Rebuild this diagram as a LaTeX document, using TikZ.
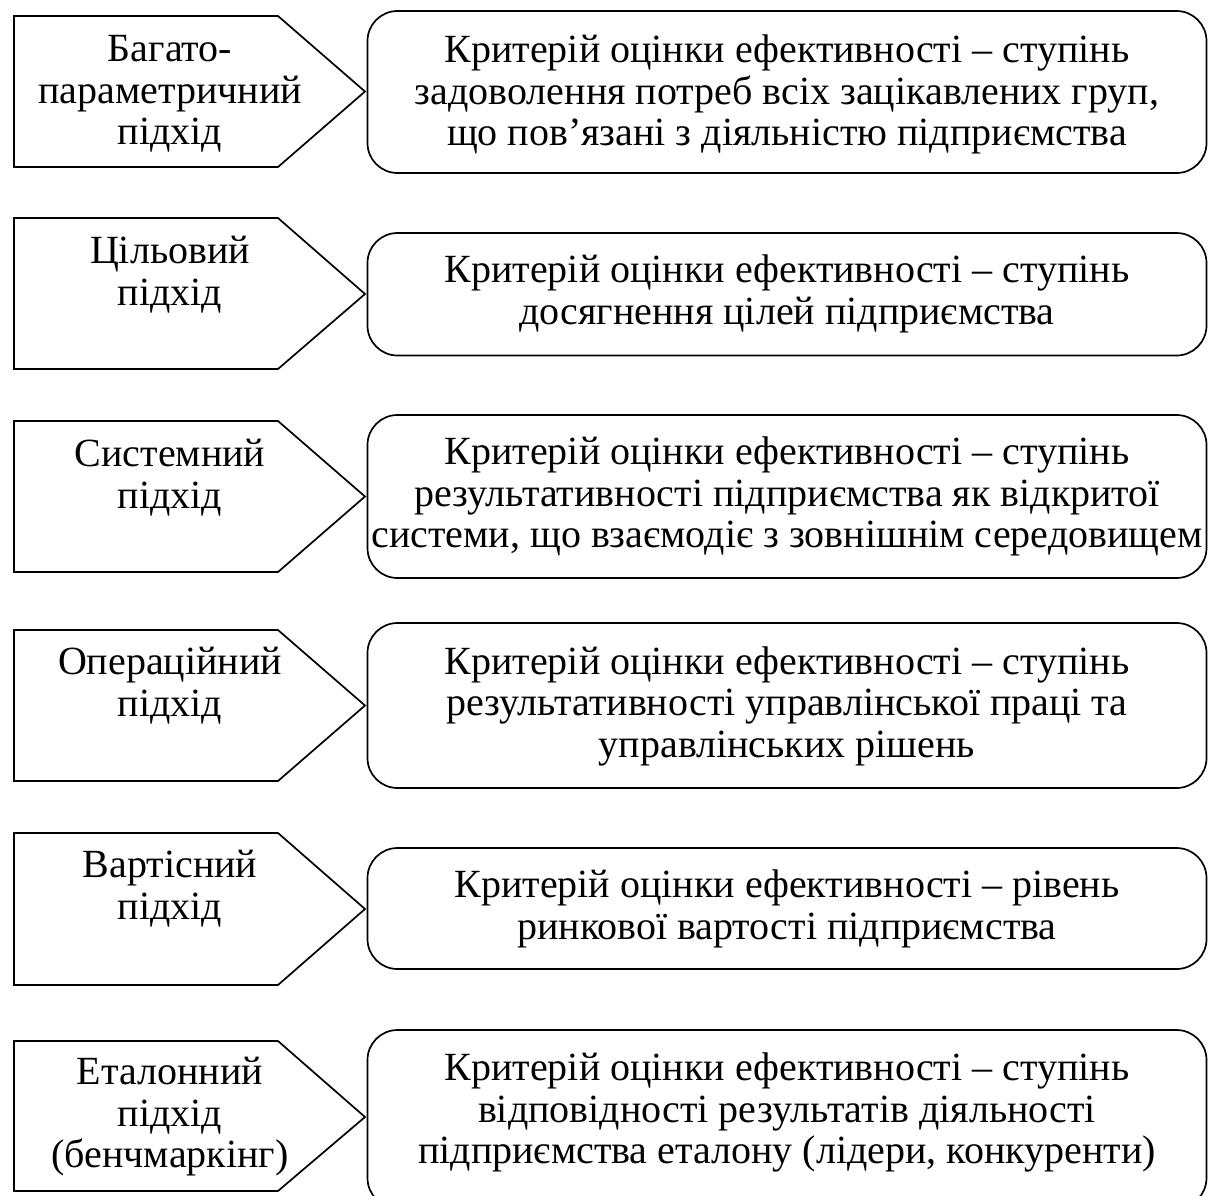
\documentclass[tikz,border=0pt]{standalone}
\usepackage{fontspec}
\setmainfont{Liberation Serif}
\begin{document}
\begin{tikzpicture}[x=1pt,y=-1pt,
  shapeline/.style={line width=1.7pt,line join=miter},
  rbox/.style={shapeline,rounded corners=30pt},
  txt/.style={inner sep=0pt,align=center,font=\fontsize{40}{41.5}\selectfont}]
\useasboundingbox (0,0) rectangle (1208,1195);
% row geometry: pentagon top/bottom/tip, rect top/bottom
\newcommand\penta[3]{\draw[shapeline] (14,#1) -- (278,#1) -- (365,#3) -- (278,#2) -- (14,#2) -- cycle;}
\penta{16}{167}{91.5}
\penta{218}{369}{294}
\penta{421}{572}{496.5}
\penta{630}{781}{705.5}
\penta{833}{985}{909}
\penta{1041}{1191}{1117}
\draw[rbox] (367.5,11) rectangle (1206.5,173);
\draw[rbox] (367.5,233) rectangle (1206.5,355.5);
\draw[rbox] (367.5,415) rectangle (1206.5,578);
\draw[rbox] (367.5,623) rectangle (1206.5,788);
\draw[rbox] (367.5,848) rectangle (1206.5,969);
\draw[rbox] (367.5,1030) rectangle (1206.5,1208);
% left texts
\node[txt] (l1) at (170,95) {\strut Багато-\\\strut параметричний\\\strut підхід};
\node[txt] (l2) at (170,276) {\strut Цільовий\\\strut підхід};
\node[txt] (l3) at (170,479) {\strut Системний\\\strut підхід};
\node[txt] (l4) at (170,687) {\strut Операційний\\\strut підхід};
\node[txt] (l5) at (170,890) {\strut Вартісний\\\strut підхід};
\node[txt] (l6) at (170,1118) {\strut Еталонний\\\strut підхід\\\strut (бенчмаркінг)};
% right texts
\node[txt] (r1) at (787,96) {\strut Критерій оцінки ефективності – ступінь\\\strut задоволення потреб всіх зацікавлених груп,\\\strut що пов’язані з діяльністю підприємства};
\node[txt] (r2) at (787,295) {\strut Критерій оцінки ефективності – ступінь\\\strut досягнення цілей підприємства};
\node[txt] (r3) at (787,498) {\strut Критерій оцінки ефективності – ступінь\\\strut результативності підприємства як відкритої\\\strut системи, що взаємодіє з зовнішнім середовищем};
\node[txt] (r4) at (787,707.5) {\strut Критерій оцінки ефективності – ступінь\\\strut результативності управлінської праці та\\\strut управлінських рішень};
\node[txt] (r5) at (787,910) {\strut Критерій оцінки ефективності – рівень\\\strut ринкової вартості підприємства};
\node[txt] (r6) at (787,1114) {\strut Критерій оцінки ефективності – ступінь\\\strut відповідності результатів діяльності\\\strut підприємства еталону (лідери, конкуренти)};
\end{tikzpicture}
\end{document}
